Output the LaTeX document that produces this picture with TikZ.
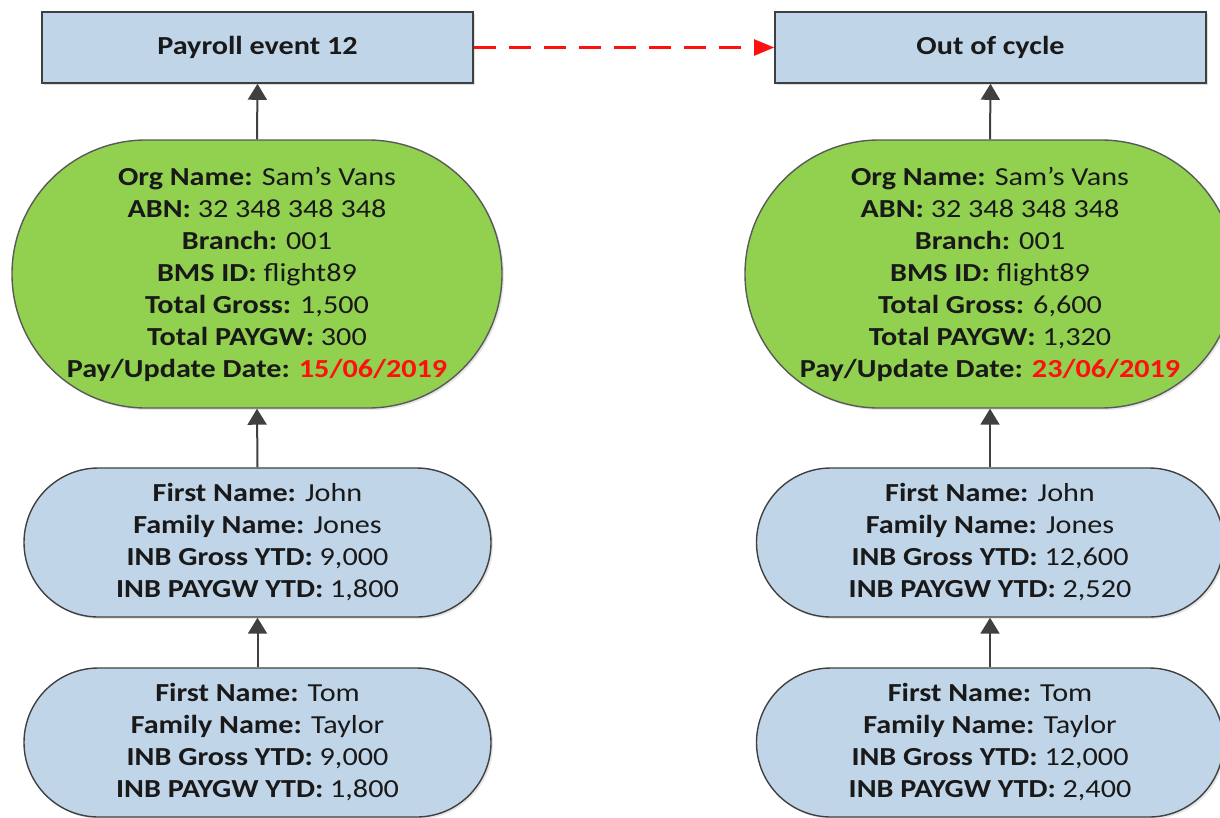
\documentclass[tikz,border=0pt]{standalone}
\usepackage{fontspec}
\setmainfont{Carlito}[FakeStretch=1.16]
\usetikzlibrary{arrows.meta,shadows}
\definecolor{boxblue}{RGB}{193,213,233}
\definecolor{evgreen}{RGB}{146,208,80}
\definecolor{edgegray}{RGB}{64,64,64}
\definecolor{dated}{RGB}{255,16,16}
\begin{document}
\begin{tikzpicture}[x=1pt,y=-1pt,
  txt/.style={font=\fontsize{26}{32}\selectfont, align=center, text=black!90, inner sep=0pt},
  eventbox/.style={txt, draw=edgegray, line width=1.6pt, fill=boxblue,
    minimum width=431pt, minimum height=71pt,
    drop shadow={shadow xshift=2pt, shadow yshift=-2pt, opacity=0.25}},
  summary/.style={txt, draw=black!65, line width=1.4pt, fill=evgreen,
    minimum width=490pt, minimum height=268pt, rounded corners=134pt,
    drop shadow={shadow xshift=2pt, shadow yshift=-2pt, opacity=0.2}},
  employee/.style={txt, draw=edgegray, line width=1.4pt, fill=boxblue,
    minimum width=467pt, minimum height=149pt, rounded corners=74.5pt,
    drop shadow={shadow xshift=2pt, shadow yshift=-2pt, opacity=0.2}},
  link/.style={draw=edgegray, line width=2pt,
    -{Triangle[length=16pt, width=19pt]}},
  cycle/.style={draw=dated, line width=2.2pt, dash pattern=on 22pt off 13pt,
    -{Triangle[length=20pt, width=16pt]}}
]
\useasboundingbox (0,0) rectangle (1220,817);

% left column: regular payroll event
\node[eventbox] (evA) at (257.5,47.5) {\bfseries Payroll event 12};
\node[summary] (sumA) at (257,274) {%
  \textbf{Org Name:} Sam’s Vans\\
  \textbf{ABN:} 32 348 348 348\\
  \textbf{Branch:} 001\\
  \textbf{BMS ID:} flight89\\
  \textbf{Total Gross:} 1,500\\
  \textbf{Total PAYGW:} 300\\
  \textbf{Pay/Update Date: \textcolor{dated}{15/06/2019}}};
\node[employee] (johnA) at (257.5,542.5) {%
  \textbf{First Name:} John\\
  \textbf{Family Name:} Jones\\
  \textbf{INB Gross YTD:} 9,000\\
  \textbf{INB PAYGW YTD:} 1,800};
\node[employee] (tomA) at (257.5,742.5) {%
  \textbf{First Name:} Tom\\
  \textbf{Family Name:} Taylor\\
  \textbf{INB Gross YTD:} 9,000\\
  \textbf{INB PAYGW YTD:} 1,800};

% right column: out-of-cycle event
\node[eventbox] (evB) at (990.5,47.5) {\bfseries Out of cycle};
\node[summary] (sumB) at (990,274) {%
  \textbf{Org Name:} Sam’s Vans\\
  \textbf{ABN:} 32 348 348 348\\
  \textbf{Branch:} 001\\
  \textbf{BMS ID:} flight89\\
  \textbf{Total Gross:} 6,600\\
  \textbf{Total PAYGW:} 1,320\\
  \textbf{Pay/Update Date: \textcolor{dated}{23/06/2019}}};
\node[employee] (johnB) at (990,542.5) {%
  \textbf{First Name:} John\\
  \textbf{Family Name:} Jones\\
  \textbf{INB Gross YTD:} 12,600\\
  \textbf{INB PAYGW YTD:} 2,520};
\node[employee] (tomB) at (990,742.5) {%
  \textbf{First Name:} Tom\\
  \textbf{Family Name:} Taylor\\
  \textbf{INB Gross YTD:} 12,000\\
  \textbf{INB PAYGW YTD:} 2,400};

% connectors
\draw[link] (sumA.north) -- (evA.south);
\draw[link] (johnA.north) -- (sumA.south);
\draw[link] (tomA.north) -- (johnA.south);
\draw[link] (sumB.north) -- (evB.south);
\draw[link] (johnB.north) -- (sumB.south);
\draw[link] (tomB.north) -- (johnB.south);
\draw[cycle] (evA.east) -- (evB.west);
\end{tikzpicture}
\end{document}
